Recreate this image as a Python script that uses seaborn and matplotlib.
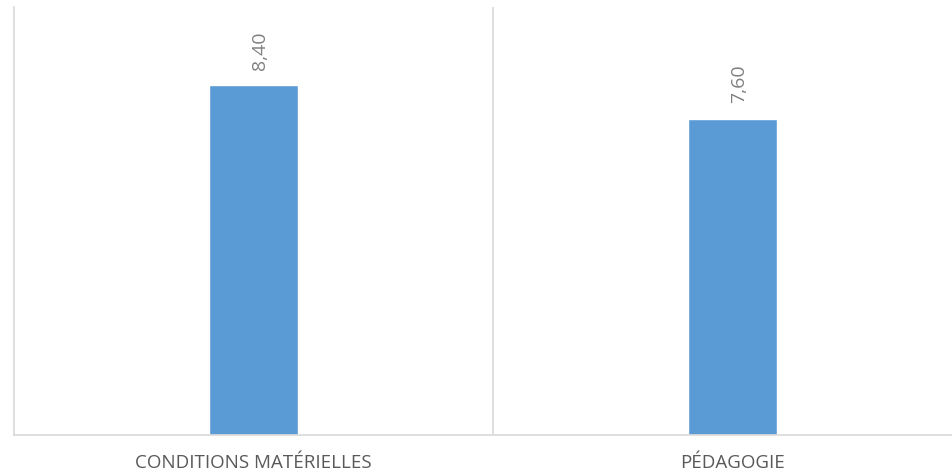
import numpy as np
import pandas as pd
import seaborn as sns
import matplotlib.pyplot as plt

# Données du graphique
categories = ['CONDITIONS MATÉRIELLES', 'PÉDAGOGIE']
valeurs = [8.40, 7.60]
etiquettes = ['8,40', '7,60']

df = pd.DataFrame({'categorie': categories, 'valeur': valeurs})

sns.set_style('white')
plt.rcParams['font.family'] = ['Open Sans', 'DejaVu Sans']

fig = plt.figure(figsize=(9.52, 4.73), dpi=100)
# l'axe déborde à droite comme dans l'original
ax = fig.add_axes([14 / 952, 38 / 473, 958 / 952, 428 / 473])

sns.barplot(data=df, x='categorie', y='valeur', color='#5B9BD5', width=0.186,
            saturation=1, ax=ax)

ax.set_xlim(-0.5, 1.5)
ax.set_ylim(0, 10.28)

# séparateur entre catégories
ax.axvline(0.5, color='#D9D9D9', lw=1.2, zorder=0)

for spine in ['top', 'right']:
    ax.spines[spine].set_visible(False)
for spine in ['left', 'bottom']:
    ax.spines[spine].set_color('#D9D9D9')
    ax.spines[spine].set_linewidth(1.2)

ax.set_yticks([])
ax.set_xlabel('')
ax.set_ylabel('')
ax.tick_params(axis='x', length=0, pad=14, labelsize=13.5, labelcolor='#595959')

for i, (v, txt) in enumerate(zip(valeurs, etiquettes)):
    ax.annotate(txt, (i, v), xytext=(5, 11), textcoords='offset points',
                ha='center', va='bottom', rotation=90, fontsize=14,
                color='#808080')

fig.savefig('out.png', dpi=100)
